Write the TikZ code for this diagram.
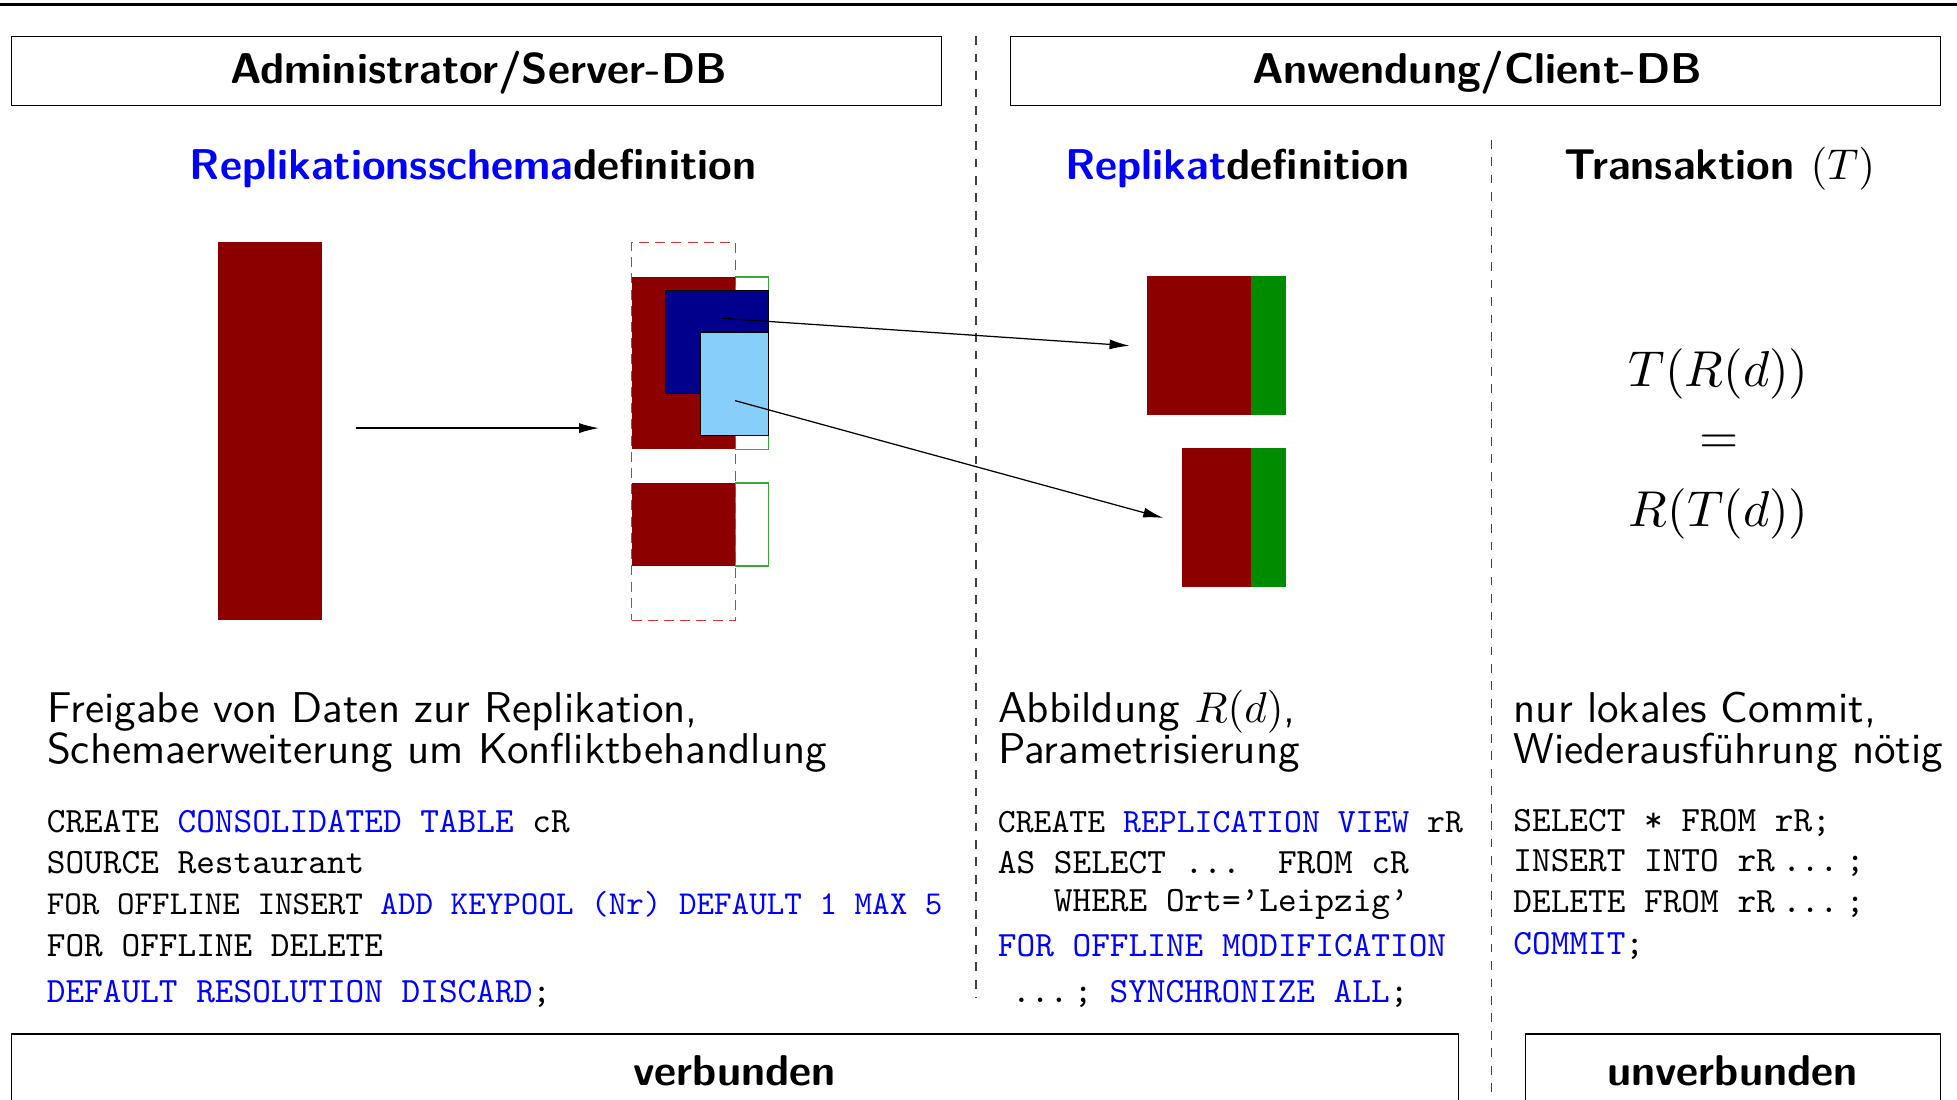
\documentclass[tikz,border=0pt]{standalone}
\usepackage{graphicx}
\usetikzlibrary{arrows.meta}

\definecolor{dred}{RGB}{140,0,0}
\definecolor{dgreen}{RGB}{0,140,0}
\definecolor{lgreen}{RGB}{60,165,60}
\definecolor{navyb}{RGB}{0,0,140}
\definecolor{skyb}{RGB}{135,206,250}
\definecolor{dashred}{RGB}{215,50,50}

% math set at 10pt and magnified, so that it matches the large text
\newcommand\mathat[2]{\scalebox{#1}{\fontsize{10}{12}\selectfont$#2$}}

\tikzset{
  frame/.style={draw, line width=1pt, inner sep=0pt, anchor=north west},
  hdr/.style={inner sep=0pt, anchor=base, font=\sffamily\bfseries\fontsize{34.5}{40}\selectfont},
  desc/.style={inner sep=0pt, anchor=base west, font=\sffamily\fontsize{10}{12}\selectfont, scale=3.45},
  sql/.style={inner sep=0pt, anchor=base west, font=\ttfamily\fontsize{10}{12}\selectfont, scale=#1},
  sql/.default=2.85,
  mathf/.style={inner sep=0pt, anchor=base, font=\fontsize{10}{12}\selectfont, scale=4.04},
  block/.style={inner sep=0pt, outer sep=0pt, anchor=north west},
  arr/.style={-{Latex[length=16pt,width=8pt]}, line width=1pt},
  sep/.style={draw=black!75, dash pattern=on 7pt off 7pt, line width=1pt},
}

\begin{document}
\begin{tikzpicture}[x=1pt, y=-1pt]
\useasboundingbox (0,0) rectangle (1568,881);

% top rule
\draw[line width=2.4pt] (0,4) -- (1568,4);

% column separators
\draw[sep] (782,29) -- (782,800);
\draw[sep] (1195,112) -- (1195,881);

% side headers
\node[frame, minimum width=745pt, minimum height=55pt] (adm) at (9,29) {};
\node[frame, minimum width=745pt, minimum height=55pt] (app) at (809,29) {};
\node[hdr] (admt) at (383.5,67) {Administrator/Server-DB};
\node[hdr] (appt) at (1183.5,67) {Anwendung/Client-DB};

% column titles
\node[hdr] (t1) at (379,143.5) {\textcolor{blue}{Replikationsschema}definition};
\node[hdr] (t2) at (991.5,143.5) {\textcolor{blue}{Replikat}definition};
\node[hdr] (t3) at (1378,143.5) {Transaktion \mathat{3.45}{(T)}};

% source table
\node[block, fill=dred, minimum width=83pt, minimum height=303pt] (src) at (175,194) {};

% consolidated table with key pool extension
\node[block, fill=dred, minimum width=83pt, minimum height=138pt] (ctop) at (506,222) {};
\node[block, draw=lgreen, line width=1pt, minimum width=27pt, minimum height=138pt] (ctopg) at (589,222) {};
\node[block, fill=dred, minimum width=83pt, minimum height=66.5pt] (cbot) at (506,387) {};
\node[block, draw=lgreen, line width=1pt, minimum width=27pt, minimum height=66.5pt] (cbotg) at (589,387) {};
\node[block, draw=dashred, line width=1pt, dash pattern=on 8pt off 5pt, minimum width=83pt, minimum height=303pt] (cons) at (506,194) {};

% replication views
\node[block, draw=black, line width=1pt, fill=navyb, minimum width=83pt, minimum height=82pt] (v1) at (533,233) {};
\node[block, draw=black, line width=1pt, fill=skyb, minimum width=55pt, minimum height=83pt] (v2) at (561,266) {};

% replicas on the client
\node[block, fill=dred, minimum width=83pt, minimum height=111.5pt] (rep1) at (919,221) {};
\node[block, fill=dgreen, minimum width=28pt, minimum height=111.5pt] (rep1g) at (1002,221) {};
\node[block, fill=dred, minimum width=55pt, minimum height=111pt] (rep2) at (947,359) {};
\node[block, fill=dgreen, minimum width=28pt, minimum height=111pt] (rep2g) at (1002,359) {};

% connectors
\coordinate (m0) at (285,343);
\coordinate (m1) at (480,343);
\coordinate (p1) at (578,255);
\coordinate (q1) at (905,277);
\coordinate (p2) at (589,321);
\coordinate (q2) at (932,415);
\draw[arr] (m0) -- (m1);
\draw[arr] (p1) -- (q1);
\draw[arr] (p2) -- (q2);

% commutativity of transaction and replication
\node[mathf] (eq1) at (1377,310) {$T(R(d))$};
\node[mathf] (eq2) at (1377,363) {$=$};
\node[mathf] (eq3) at (1377,422) {$R(T(d))$};

% descriptions
\node[desc] (f1) at (37,578.5) {Freigabe von Daten zur Replikation,};
\node[desc] (f2) at (37,611.5) {Schemaerweiterung um Konfliktbehandlung};
\node[desc] (a1) at (799,578.5) {Abbildung $R(d)$,};
\node[desc] (a2) at (799,611.5) {Parametrisierung};
\node[desc] (n1) at (1212,578.5) {nur lokales Commit,};
\node[desc] (n2) at (1212,611.5) {Wiederausführung nötig};

% server statements
\node[sql] (l1) at (37,667) {CREATE \textcolor{blue}{CONSOLIDATED TABLE} cR};
\node[sql] (l2) at (37,700) {SOURCE Restaurant};
\node[sql=2.68] (l3) at (37,733) {FOR OFFLINE INSERT \textcolor{blue}{ADD KEYPOOL (Nr) DEFAULT 1 MAX 5}};
\node[sql] (l4) at (37,766) {FOR OFFLINE DELETE};
\node[sql] (l5) at (37,803) {\textcolor{blue}{DEFAULT RESOLUTION DISCARD};};

% client view definition
\node[sql=2.73] (c1) at (799,667) {CREATE \textcolor{blue}{REPLICATION VIEW} rR};
\node[sql] (c2) at (799,700) {AS SELECT ...\ \ FROM cR};
\node[sql] (c3) at (799,730) {\ \ \ WHERE Ort=’Leipzig’};
\node[sql] (c4) at (799,766) {\textcolor{blue}{FOR OFFLINE MODIFICATION}};
\node[sql] (c5) at (799,803) {\hspace*{4pt}...\kern1.6pt;\hspace{4.8pt}\textcolor{blue}{SYNCHRONIZE ALL};};

% local transaction
\node[sql] (r1) at (1212,666) {SELECT * FROM rR;};
\node[sql] (r2) at (1212,698) {INSERT INTO rR\hspace{2.1pt}...\hspace{2.1pt};};
\node[sql] (r3) at (1212,731) {DELETE FROM rR\hspace{2.1pt}...\hspace{2.1pt};};
\node[sql] (r4) at (1212,765) {\textcolor{blue}{COMMIT};};

% connection modes
\node[frame, minimum width=1159pt, minimum height=55pt] (verb) at (9,828) {};
\node[frame, minimum width=332pt, minimum height=55pt] (unverb) at (1222,828) {};
\node[hdr] (verbt) at (588.5,869.5) {verbunden};
\node[hdr] (unverbt) at (1388,869.5) {unverbunden};
\end{tikzpicture}
\end{document}
